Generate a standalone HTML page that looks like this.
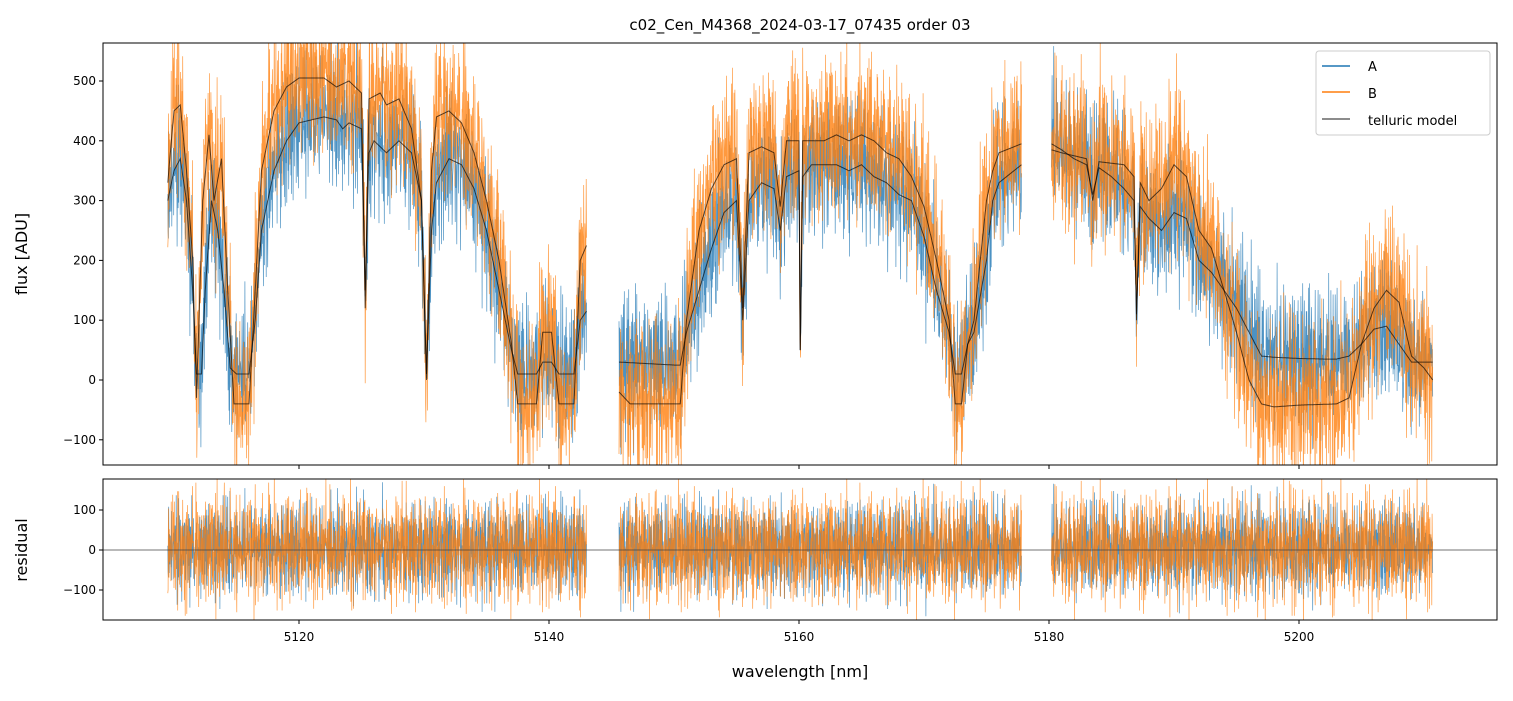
<!DOCTYPE html>
<html><head><meta charset="utf-8"><style>
body{margin:0;background:#fff;font-family:"Liberation Sans","DejaVu Sans",sans-serif;}
svg text{font-family:"DejaVu Sans","Liberation Sans",sans-serif;}
</style></head><body>
<svg id="c" width="1513" height="696" xmlns="http://www.w3.org/2000/svg">
<rect width="1513" height="696" fill="#fff"/>
<defs>
<clipPath id="cTop"><rect x="103" y="43" width="1394" height="422"/></clipPath>
<clipPath id="cBot"><rect x="103" y="479" width="1394" height="141"/></clipPath>
</defs>
<text x="800" y="30" text-anchor="middle" font-size="15">c02_Cen_M4368_2024-03-17_07435  order 03</text>
<g id="topSeries" clip-path="url(#cTop)"></g>
<g id="botSeries" clip-path="url(#cBot)"></g>
<rect x="103" y="43" width="1394" height="422" fill="none" stroke="#000" stroke-width="1"/>
<rect x="103" y="479" width="1394" height="141" fill="none" stroke="#000" stroke-width="1"/>
<g id="axes"></g>
<text x="27" y="254" font-size="16" text-anchor="middle" transform="rotate(-90 27 254)">flux [ADU]</text>
<text x="27" y="550" font-size="16" text-anchor="middle" transform="rotate(-90 27 550)">residual</text>
<text x="800" y="677" font-size="16" text-anchor="middle">wavelength [nm]</text>
<g>
<rect x="1316" y="51" width="174" height="84" rx="3" fill="#fff" fill-opacity="0.8" stroke="#ccc"/>
<line x1="1322" y1="66" x2="1350" y2="66" stroke="#1f77b4" stroke-width="1.5"/>
<text x="1368" y="71" font-size="13">A</text>
<line x1="1322" y1="92" x2="1350" y2="92" stroke="#ff7f0e" stroke-width="1.5"/>
<text x="1368" y="98" font-size="13">B</text>
<line x1="1322" y1="119" x2="1350" y2="119" stroke="#666" stroke-width="1.5"/>
<text x="1368" y="125" font-size="13">telluric model</text>
</g>
</svg>
<script>
const xTicks=[5120,5140,5160,5180,5200];
const yTicksTop=[500,400,300,200,100,0,-100];
const yTicksBot=[100,0,-100];
const segments=[[5109.5,5143],[5145.6,5177.8],[5180.2,5210.7]];
const modelA=[[5109.5,300],[5110,350],[5110.5,370],[5111,300],[5111.5,150],[5111.8,10],[5112.2,10],[5112.5,150],[5113,300],[5113.5,250],[5114,150],[5114.5,20],[5115,10],[5116,10],[5116.5,100],[5117,250],[5118,350],[5119,400],[5120,430],[5122,440],[5123,435],[5123.5,420],[5124,430],[5125,420],[5125.3,150],[5125.6,380],[5126,400],[5127,380],[5128,400],[5129,380],[5129.8,300],[5130.2,10],[5130.6,250],[5131,330],[5132,370],[5133,360],[5134,320],[5135,250],[5136,150],[5137,50],[5137.5,10],[5139,10],[5139.5,30],[5140.2,30],[5140.8,10],[5142,10],[5142.5,100],[5143,115],
[5145.6,30],[5150,25],[5150.5,25],[5151,80],[5152,150],[5153,220],[5154,280],[5155,300],[5155.5,100],[5156,300],[5157,330],[5158,320],[5158.5,250],[5159,340],[5160,350],[5160.1,50],[5160.3,340],[5161,360],[5162,360],[5163,360],[5164,350],[5165,360],[5166,340],[5167,330],[5168,310],[5169,300],[5170,240],[5171,150],[5172,80],[5172.5,10],[5173,10],[5173.5,60],[5174,80],[5175,200],[5175.5,300],[5176,330],[5177.8,360],
[5180.2,395],[5181,385],[5182,370],[5183,360],[5183.5,310],[5184,355],[5185,340],[5186,320],[5186.8,300],[5187,110],[5187.3,290],[5188,270],[5189,250],[5190,280],[5191,270],[5192,200],[5193,180],[5194,150],[5195,120],[5196,80],[5197,40],[5198,38],[5200,36],[5202,35],[5203,35],[5204,40],[5205,60],[5206,85],[5207,90],[5208,60],[5209,30],[5210.7,30]];
const modelB=[[5109.5,330],[5110,450],[5110.5,460],[5111,350],[5111.5,200],[5111.8,-30],[5112.3,300],[5112.8,410],[5113.2,300],[5113.8,370],[5114.3,150],[5114.8,-40],[5116,-40],[5116.5,150],[5117,350],[5118,450],[5119,490],[5120,505],[5122,505],[5123,490],[5124,500],[5125,480],[5125.3,120],[5125.6,470],[5126.5,480],[5127,460],[5128,470],[5129,420],[5129.8,300],[5130.2,0],[5130.6,350],[5131,440],[5132,450],[5133,430],[5134,380],[5135,300],[5136,200],[5137,60],[5137.5,-40],[5139,-40],[5139.5,80],[5140.2,80],[5140.8,-40],[5142,-40],[5142.5,200],[5143,225],
[5145.6,-20],[5146.5,-40],[5150.5,-40],[5151,100],[5152,250],[5153,320],[5154,360],[5155,370],[5155.5,120],[5156,380],[5157,390],[5158,380],[5158.5,290],[5159,400],[5160,400],[5160.1,50],[5160.3,400],[5162,400],[5163,410],[5164,400],[5165,410],[5166,400],[5167,380],[5168,370],[5169,340],[5170,290],[5171,200],[5172,100],[5172.5,-40],[5173,-40],[5173.5,60],[5174,100],[5175,300],[5175.5,350],[5176,380],[5177.8,395],
[5180.2,385],[5181,380],[5182,375],[5183,370],[5183.5,300],[5184,365],[5186,360],[5186.8,340],[5187,100],[5187.3,330],[5188,300],[5189,320],[5190,360],[5191,340],[5192,250],[5193,220],[5194,150],[5195,80],[5196,0],[5197,-40],[5198,-45],[5200,-42],[5203,-40],[5204,-30],[5205,60],[5206,120],[5207,150],[5208,130],[5209,40],[5210,20],[5210.7,0]];
const noiseA=[0.8,-1.2,0.3,1.9,-0.6,-1.7,0.9,0.1,-0.4,1.3,-2.1,0.6,1.1,-0.9,0.2,-1.4,2.3,-0.3,0.7,-1.0,1.6,-0.2,-1.8,0.4,1.0,-0.7,0.0,1.4,-1.1,0.5,-2.4,1.2,0.3,-0.5,1.8,-1.3,0.6,-0.1,2.0,-0.8,-1.5,0.9,0.2,-0.6,1.5,-1.9,0.4,1.1,-0.2,-1.0,1.7,0.5,-1.4,0.8,-0.3,2.2,-1.6,0.1,-0.9,1.3,-0.4];
const noiseB=[-0.5,1.4,-1.9,0.7,0.2,-1.1,2.1,-0.3,-0.8,1.0,0.4,-1.6,1.2,-0.1,-2.2,0.9,0.5,-0.7,1.8,-1.3,0.0,1.1,-0.4,-1.0,2.4,-0.6,0.3,-1.5,0.8,1.6,-0.9,-0.2,1.3,-2.0,0.6,0.1,-1.2,1.9,-0.5,0.7,-1.7,1.0,0.2,-0.3,1.5,-1.4,0.4,-0.8,2.2,-1.1,0.9,-0.6,-1.8,1.2,0.3];
const sigmaA=60, sigmaB=72;

const X=w=>103+(w-5104.32)*12.5;
const YT=v=>380-v*0.598;
const YB=v=>550-v*0.4;
const NS='http://www.w3.org/2000/svg';
function interp(m,w){for(let i=1;i<m.length;i++){if(w<=m[i][0]){const a=m[i-1],b=m[i];const t=(w-a[0])/(b[0]-a[0]);return a[1]+t*(b[1]-a[1]);}}return m[m.length-1][1];}
function noise(arr1,arr2,i){return 0.6*arr1[i%arr1.length]+0.6*arr2[(i*7)%arr2.length];}
function path(parent,d,stroke,width,op,name){const p=document.createElementNS(NS,'path');p.setAttribute('d',d);p.setAttribute('fill','none');p.setAttribute('stroke',stroke);p.setAttribute('stroke-width',width);p.setAttribute('stroke-opacity',op);


parent.appendChild(p);}
const topG=document.getElementById('topSeries'),botG=document.getElementById('botSeries');
const step=0.025;
let dA='',dB='',rA='',rB='',mA='',mB='';
segments.forEach((s,si)=>{let k=0;let first=true;
 for(let w=s[0];w<=s[1]+1e-9;w+=step,k++){
  const i=k+si*1000;
  const na=noise(noiseA,noiseB,i)*sigmaA, nb=noise(noiseB,noiseA,i+13)*sigmaB;
  const a=interp(modelA,w), b=interp(modelB,w);
  const c=first?'M':'L';
  const x=X(w).toFixed(1);
  dA+=c+x+','+YT(a+na).toFixed(1);
  dB+=c+x+','+YT(b+nb).toFixed(1);
  rA+=c+x+','+YB(na).toFixed(1);
  rB+=c+x+','+YB(nb).toFixed(1);
  mA+=c+x+','+YT(a).toFixed(1);
  mB+=c+x+','+YT(b).toFixed(1);
  first=false;}
});
path(topG,dA,'#1f77b4',0.7,0.8,'series-a');
path(topG,dB,'#ff7f0e',0.7,0.8,'series-b');
path(topG,mA,'#000',1,0.65,'telluric-model-a');
path(topG,mB,'#000',1,0.65,'telluric-model-b');
path(botG,rA,'#1f77b4',0.7,0.8,'residual-a');
path(botG,rB,'#ff7f0e',0.7,0.8,'residual-b');
const zl=document.createElementNS(NS,'line');zl.setAttribute('x1',103);zl.setAttribute('x2',1497);zl.setAttribute('y1',YB(0));zl.setAttribute('y2',YB(0));zl.setAttribute('stroke','#444');zl.setAttribute('stroke-width',0.7);


botG.appendChild(zl);
const ax=document.getElementById('axes');
function ln(x1,y1,x2,y2,name){const l=document.createElementNS(NS,'line');l.setAttribute('x1',x1);l.setAttribute('y1',y1);l.setAttribute('x2',x2);l.setAttribute('y2',y2);l.setAttribute('stroke','#000');


ax.appendChild(l);}
function tx(x,y,s,anc,name){const t=document.createElementNS(NS,'text');t.setAttribute('x',x);t.setAttribute('y',y);t.setAttribute('font-size','12');t.setAttribute('text-anchor',anc);t.textContent=s;


ax.appendChild(t);}
const fmt=v=>v<0?'\u2212'+(-v):''+v;
xTicks.forEach(v=>{const x=X(v);ln(x,465,x,469,'x-tick-top');ln(x,620,x,624,'x-tick');tx(x,641,v,'middle','x-tick-label');});
yTicksTop.forEach(v=>{const y=YT(v);ln(99,y,103,y,'y-tick-top');tx(96,y+4,fmt(v),'end','y-tick-label-top');});
yTicksBot.forEach(v=>{const y=YB(v);ln(99,y,103,y,'y-tick-bottom');tx(96,y+4,fmt(v),'end','y-tick-label-bottom');});
</script>
</body></html>
